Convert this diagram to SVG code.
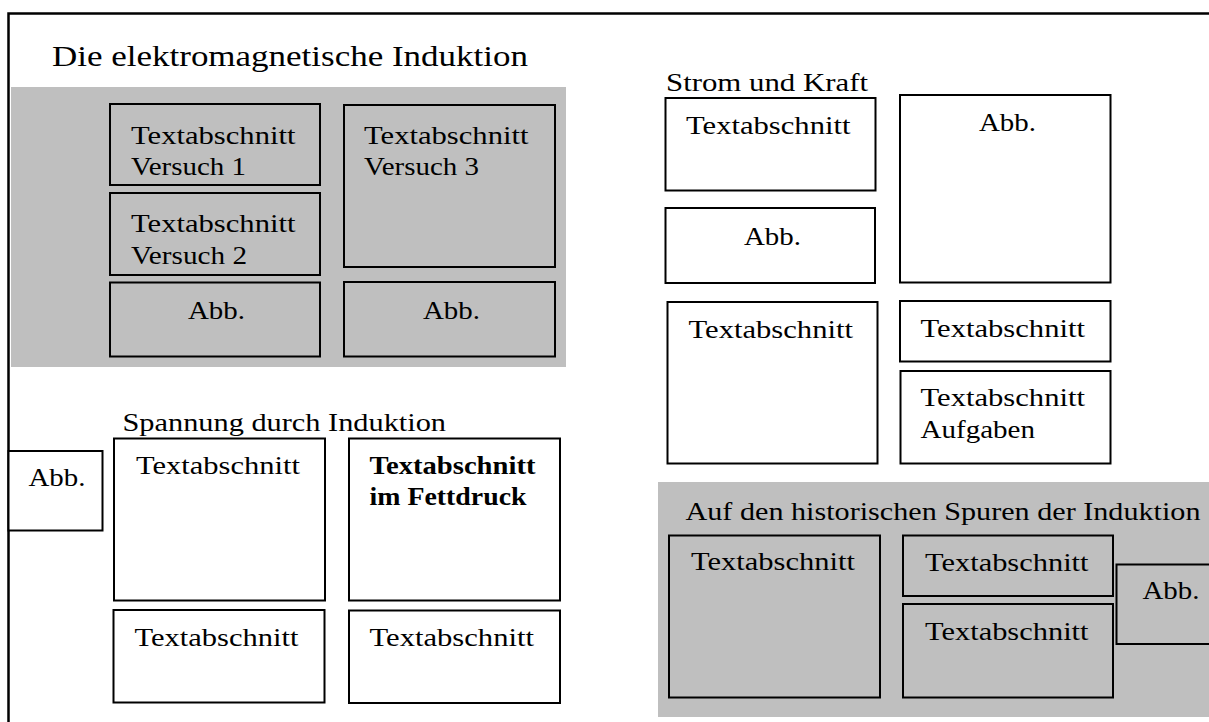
<svg xmlns="http://www.w3.org/2000/svg" width="1209" height="722" viewBox="0 0 1209 722">
<style>
.bg{fill:#ffffff}
.panel{fill:#bfbfbf;stroke:none}
.box{fill:none;stroke:#000;stroke-width:2}
.boxw{fill:#ffffff;stroke:#000;stroke-width:2}
.frame{fill:none;stroke:#000;stroke-width:2.5}
text{font-family:"Liberation Serif","DejaVu Serif",serif;font-size:26px;font-weight:normal;fill:#000}
.title{font-size:30px}
.bold{font-weight:bold}
</style>
<rect class="bg" x="0" y="0" width="1209" height="722"/>
<path class="frame" d="M8.5 722 V13.5 H1209"/>

<g id="panel-induktion">
<rect class="panel" x="11" y="87" width="555" height="280"/>
<text class="title" x="52" y="66" textLength="476" lengthAdjust="spacingAndGlyphs">Die elektromagnetische Induktion</text>
</g>
<g id="ind-versuch1">
<rect class="box" x="110" y="104" width="210" height="81"/>
<text x="131" y="143.5" textLength="164.5" lengthAdjust="spacingAndGlyphs">Textabschnitt</text>
<text x="131" y="174.5" textLength="115" lengthAdjust="spacingAndGlyphs">Versuch 1</text>
</g>
<g id="ind-versuch2">
<rect class="box" x="110" y="193" width="210" height="82"/>
<text x="131" y="232" textLength="164.5" lengthAdjust="spacingAndGlyphs">Textabschnitt</text>
<text x="131" y="263.5" textLength="116" lengthAdjust="spacingAndGlyphs">Versuch 2</text>
</g>
<g id="ind-abb1">
<rect class="box" x="110" y="282.5" width="210" height="74"/>
<text x="188" y="318.5" textLength="57" lengthAdjust="spacingAndGlyphs">Abb.</text>
</g>
<g id="ind-versuch3">
<rect class="box" x="344" y="105" width="211" height="162"/>
<text x="364" y="143.5" textLength="164.5" lengthAdjust="spacingAndGlyphs">Textabschnitt</text>
<text x="364" y="175" textLength="115" lengthAdjust="spacingAndGlyphs">Versuch 3</text>
</g>
<g id="ind-abb2">
<rect class="box" x="344" y="282" width="211" height="74.5"/>
<text x="423" y="318.5" textLength="57" lengthAdjust="spacingAndGlyphs">Abb.</text>
</g>

<g id="heading-strom">
<text x="666" y="90.5" textLength="202" lengthAdjust="spacingAndGlyphs">Strom und Kraft</text>
</g>
<g id="strom-text1">
<rect class="box" x="665.5" y="98" width="210" height="92.5"/>
<text x="686" y="134" textLength="164.5" lengthAdjust="spacingAndGlyphs">Textabschnitt</text>
</g>
<g id="strom-abb1">
<rect class="box" x="665.5" y="208" width="209.5" height="75"/>
<text x="744" y="244.5" textLength="57" lengthAdjust="spacingAndGlyphs">Abb.</text>
</g>
<g id="strom-abb2">
<rect class="box" x="900" y="95" width="210.5" height="187.5"/>
<text x="979" y="131" textLength="57" lengthAdjust="spacingAndGlyphs">Abb.</text>
</g>
<g id="strom-text2">
<rect class="box" x="667.5" y="302" width="210" height="161.5"/>
<text x="688.5" y="338" textLength="164.5" lengthAdjust="spacingAndGlyphs">Textabschnitt</text>
</g>
<g id="strom-text3">
<rect class="box" x="900" y="301" width="210.5" height="60.5"/>
<text x="920.5" y="337" textLength="164.5" lengthAdjust="spacingAndGlyphs">Textabschnitt</text>
</g>
<g id="strom-aufgaben">
<rect class="box" x="900.5" y="371" width="210" height="92.5"/>
<text x="920.5" y="406" textLength="164.5" lengthAdjust="spacingAndGlyphs">Textabschnitt</text>
<text x="920.5" y="437.5" textLength="114.5" lengthAdjust="spacingAndGlyphs">Aufgaben</text>
</g>

<g id="heading-spannung">
<text x="122.5" y="430.5" textLength="323.5" lengthAdjust="spacingAndGlyphs">Spannung durch Induktion</text>
</g>
<g id="span-abb">
<rect class="boxw" x="8.5" y="451" width="94" height="79.5"/>
<text x="28.5" y="486" textLength="57" lengthAdjust="spacingAndGlyphs">Abb.</text>
</g>
<g id="span-text1">
<rect class="box" x="114" y="438.5" width="211" height="162"/>
<text x="136" y="474" textLength="164" lengthAdjust="spacingAndGlyphs">Textabschnitt</text>
</g>
<g id="span-bold">
<rect class="box" x="349" y="438.5" width="211" height="162"/>
<text class="bold" x="369.5" y="473.5" textLength="166" lengthAdjust="spacingAndGlyphs">Textabschnitt</text>
<text class="bold" x="369.5" y="505" textLength="157" lengthAdjust="spacingAndGlyphs">im Fettdruck</text>
</g>
<g id="span-text2">
<rect class="box" x="113.5" y="610" width="211" height="92.5"/>
<text x="134.5" y="645.5" textLength="164" lengthAdjust="spacingAndGlyphs">Textabschnitt</text>
</g>
<g id="span-text3">
<rect class="box" x="349" y="610.5" width="211" height="92.5"/>
<text x="369.5" y="645.5" textLength="164.5" lengthAdjust="spacingAndGlyphs">Textabschnitt</text>
</g>

<g id="panel-historisch">
<rect class="panel" x="658" y="482" width="551" height="235"/>
<text x="685.5" y="519.5" textLength="515" lengthAdjust="spacingAndGlyphs">Auf den historischen Spuren der Induktion</text>
</g>
<g id="hist-text1">
<rect class="box" x="669" y="535.5" width="211" height="162"/>
<text x="691" y="570" textLength="164" lengthAdjust="spacingAndGlyphs">Textabschnitt</text>
</g>
<g id="hist-text2">
<rect class="box" x="903" y="535.5" width="210" height="60.5"/>
<text x="925" y="570.5" textLength="163.5" lengthAdjust="spacingAndGlyphs">Textabschnitt</text>
</g>
<g id="hist-text3">
<rect class="box" x="903" y="604" width="210" height="93.5"/>
<text x="925" y="640" textLength="163.5" lengthAdjust="spacingAndGlyphs">Textabschnitt</text>
</g>
<g id="hist-abb">
<rect class="box" x="1116.5" y="564.5" width="100" height="79.5"/>
<text x="1142.5" y="599" textLength="57" lengthAdjust="spacingAndGlyphs">Abb.</text>
</g>

<g id="connectors"/>
</svg>
